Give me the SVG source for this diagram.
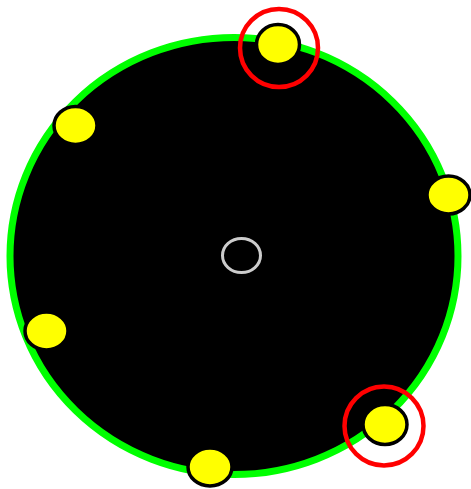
<svg xmlns="http://www.w3.org/2000/svg" width="471" height="489" viewBox="0 0 471 489">
<style>
.dot{fill:#ffff00;stroke:#000;stroke-width:3.5}
.ring{fill:none;stroke:#ff0000;stroke-width:4.5}
</style>
<rect width="471" height="489" fill="#fff"/>
<g id="body"><ellipse cx="234" cy="256" rx="224" ry="218.5" fill="#000" stroke="#00ff00" stroke-width="7"/></g>
<g id="center"><ellipse cx="241.5" cy="255.5" rx="19" ry="17" fill="none" stroke="#cccccc" stroke-width="3"/></g>
<g id="n1"><ellipse class="dot" cx="278" cy="44.5" rx="21.5" ry="20"/></g>
<g id="n2"><ellipse class="dot" cx="448.5" cy="195" rx="21.5" ry="19"/></g>
<g id="n3"><ellipse class="dot" cx="385" cy="424.5" rx="22" ry="20"/></g>
<g id="n4"><ellipse class="dot" cx="210" cy="467" rx="22" ry="19"/></g>
<g id="n5"><ellipse class="dot" cx="46.5" cy="331" rx="21.5" ry="19"/></g>
<g id="n6"><ellipse class="dot" cx="75.5" cy="125.5" rx="21.5" ry="19"/></g>
<g id="markers">
<circle class="ring" cx="279" cy="48" r="39"/>
<circle class="ring" cx="384" cy="426" r="39.5"/>
</g>
</svg>
